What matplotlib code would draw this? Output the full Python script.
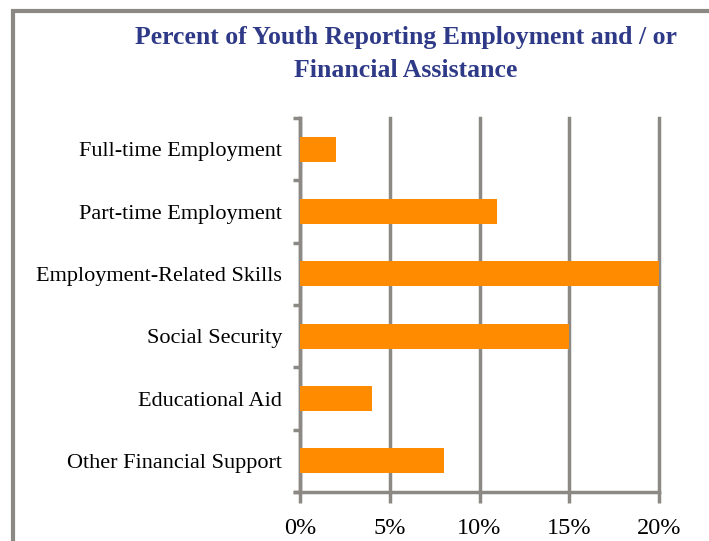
import matplotlib
matplotlib.use('Agg')
import matplotlib.pyplot as plt
from matplotlib.patches import Rectangle
from matplotlib.ticker import PercentFormatter

# donnees
categories = ['Full-time Employment', 'Part-time Employment', 'Employment-Related Skills',
              'Social Security', 'Educational Aid', 'Other Financial Support']
valeurs = [2, 11, 20, 15, 4, 8]
ticks_x = [0, 5, 10, 15, 20]

gris = '#8c8884'
orange = '#ff8c00'

plt.rcParams['font.family'] = ['Liberation Serif', 'DejaVu Serif']

fig = plt.figure(figsize=(7.09, 5.41), dpi=100)
# cadre gris autour du graphique
fig.patches.append(Rectangle((13/709, -0.1), 1.2, 1 - 11/541 + 0.1, transform=fig.transFigure,
                             fill=False, edgecolor=gris, linewidth=3))

ax = fig.add_axes([300/709, 1 - 492/541, 359/709, (492 - 118)/541])
y = list(range(len(categories)))
ax.barh(y, valeurs, height=0.4, color=orange, zorder=3)
ax.set_ylim(len(categories) - 0.5, -0.5)
ax.set_xlim(0, 20)

ax.set_yticks(y)
ax.set_yticklabels(categories, fontsize=16)
ax.set_yticks([i + 0.5 for i in range(-1, len(categories))], minor=True)
ax.tick_params(axis='y', which='major', length=0, pad=13)
ax.tick_params(axis='y', which='minor', length=5, width=2.5, color=gris)

ax.set_xticks(ticks_x)
ax.xaxis.set_major_formatter(PercentFormatter(decimals=0))
ax.tick_params(axis='x', length=8, width=2.5, color=gris, labelsize=17.5, pad=11)
ax.grid(axis='x', color=gris, linewidth=2.5, zorder=1)
for l in ax.get_xgridlines():
    l.set_clip_on(False)

for s in ['top', 'right']:
    ax.spines[s].set_visible(False)
for s in ['left', 'bottom']:
    ax.spines[s].set_color(gris)
    ax.spines[s].set_linewidth(2.5)
ax.spines['bottom'].set_bounds(-0.3, 20)

fig.text(406/709, 1 - 54/541, 'Percent of Youth Reporting Employment and / or\nFinancial Assistance',
         ha='center', va='center', fontsize=18.5, fontweight='bold', color='#2e3a87',
         linespacing=1.55)

fig.savefig('out.png', dpi=100)
